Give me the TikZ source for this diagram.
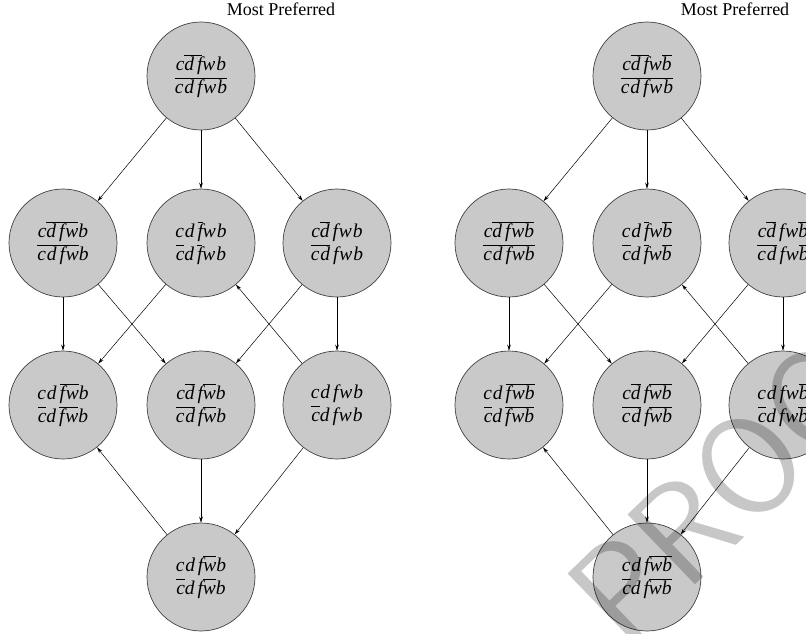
\documentclass[tikz,border=0pt]{standalone}
\usepackage{fontspec}
\setmainfont{Liberation Serif}
\usetikzlibrary{arrows.meta}
\definecolor{nodegray}{RGB}{201,201,201}
\newcommand\ob[1]{\vbox{\hrule height 0.75pt\kern1.3pt\hbox{\vphantom{fd}#1}}}
\newcommand\gp{\kern2.8pt}
\tikzset{
 pref/.style={circle, draw=black!75, line width=0.7pt, fill=nodegray, minimum size=108pt, inner sep=0pt, align=center, font=\fontsize{19.5}{23}\selectfont\itshape\addfontfeature{LetterSpace=5}},
 arr/.style={-{Stealth[length=6pt,width=3.6pt]}, line width=0.5pt},
 mp/.style={font=\fontsize{18}{20}\selectfont}
}
\begin{document}
\begin{tikzpicture}[x=1pt,y=-1pt]
\useasboundingbox (0,0) rectangle (806,633);
\clip (0,0) rectangle (806,633);
% ---------- left diagram ----------
\node[pref] (LT) at (201,76)  {c\ob{d\gp f}wb\\\ob{cd\gp fwb}};
\node[pref] (LA) at (63,243)  {c\ob{d\gp fw}b\\\ob{cd\gp fw}b};
\node[pref] (LB) at (201,243) {cd\gp\ob{f}wb\\\ob{c}d\gp\ob{f}wb};
\node[pref] (LC) at (337,243) {c\ob{d}\gp fwb\\\ob{cd}\gp fwb};
\node[pref] (LD) at (63,405)  {cd\gp\ob{fw}b\\\ob{c}d\gp\ob{fw}b};
\node[pref] (LE) at (201,405) {c\ob{d}\gp f\ob{w}b\\\ob{cd}\gp f\ob{w}b};
\node[pref] (LF) at (337,405) {cd\gp fwb\\\ob{c}d\gp fwb};
\node[pref] (LG) at (201,577) {cd\gp f\ob{w}b\\\ob{c}d\gp f\ob{w}b};
\node[mp] (LM) at (281,9) {Most Preferred};
\draw[arr] (LT) -- (LA);
\draw[arr] (LT) -- (LB);
\draw[arr] (LT) -- (LC);
\draw[arr] (LA) -- (LD);
\draw[arr] (LA) -- (LE);
\draw[arr] (LB) -- (LD);
\draw[arr] (LC) -- (LE);
\draw[arr] (LC) -- (LF);
\draw[arr] (LF) -- (LB);
\draw[arr] (LE) -- (LG);
\draw[arr] (LF) -- (LG);
\draw[arr] (LG) -- (LD);
% ---------- right diagram ----------
\node[pref] (RT) at (647,76)  {c\ob{d\gp f}w\ob{b}\\\ob{cd\gp fwb}};
\node[pref] (RA) at (509,243) {c\ob{d\gp fw}\ob{b}\\\ob{cd\gp fw}\ob{b}};
\node[pref] (RB) at (647,243) {cd\gp\ob{f}w\ob{b}\\\ob{c}d\gp\ob{f}w\ob{b}};
\node[pref] (RC) at (783,243) {c\ob{d}\gp fw\ob{b}\\\ob{cd}\gp fw\ob{b}};
\node[pref] (RD) at (509,405) {cd\gp\ob{fw}\ob{b}\\\ob{c}d\gp\ob{fw}\ob{b}};
\node[pref] (RE) at (647,405) {c\ob{d}\gp f\ob{w}\ob{b}\\\ob{cd}\gp f\ob{w}\ob{b}};
\node[pref] (RF) at (783,405) {cd\gp fw\ob{b}\\\ob{c}d\gp fw\ob{b}};
\node[pref] (RG) at (647,577) {cd\gp f\ob{w}\ob{b}\\\ob{c}d\gp f\ob{w}\ob{b}};
\node[mp] (RM) at (735,9) {Most Preferred};
\draw[arr] (RT) -- (RA);
\draw[arr] (RT) -- (RB);
\draw[arr] (RT) -- (RC);
\draw[arr] (RA) -- (RD);
\draw[arr] (RA) -- (RE);
\draw[arr] (RB) -- (RD);
\draw[arr] (RC) -- (RE);
\draw[arr] (RC) -- (RF);
\draw[arr] (RF) -- (RB);
\draw[arr] (RE) -- (RG);
\draw[arr] (RF) -- (RG);
\draw[arr] (RG) -- (RD);
% ---------- watermark ----------
\node[rotate=44, font=\fontsize{140}{140}\selectfont\sffamily, text=black, text opacity=0.22] (WM) at (750,465) {PROOF};
\end{tikzpicture}
\end{document}
